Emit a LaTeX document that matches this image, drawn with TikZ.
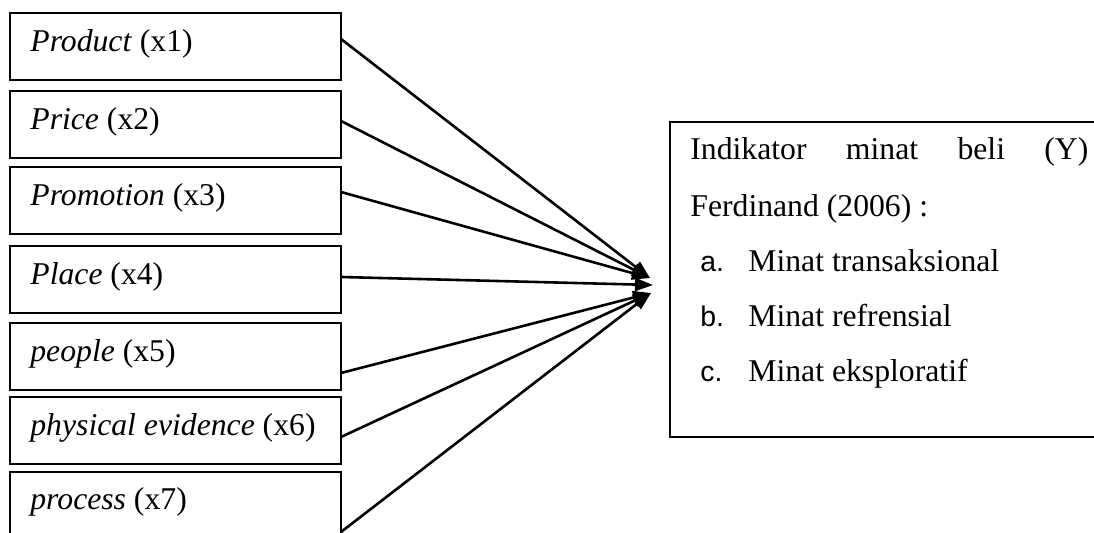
\documentclass[tikz,border=0pt]{standalone}
\usepackage{fontspec}
\setmainfont{Liberation Serif}
\newfontfamily\labfont{Liberation Sans}
\usetikzlibrary{arrows.meta}
\tikzset{
  varbox/.style={draw, line width=1pt, minimum width=165.5pt, minimum height=33.5pt, inner sep=0pt, outer sep=0pt},
  ybox/.style={draw, line width=1pt, minimum width=220pt, minimum height=157.5pt, inner sep=0pt, outer sep=0pt},
  lbl/.style={anchor=base west, inner sep=0pt, font=\fontsize{15.85}{19}\selectfont},
  itemlbl/.style={anchor=base west, inner sep=0pt, font=\labfont\fontsize{14.2}{17}\selectfont},
  conn/.style={line width=1.3pt, -{Triangle[length=9pt,width=6.5pt]}}
}
\begin{document}
\begin{tikzpicture}[x=0.5pt,y=-0.5pt]
\useasboundingbox (0,0) rectangle (1094,533);
\clip (0,0) rectangle (1094,533);
% left boxes
\node[varbox] (b1) at (175.5,46.5) {};
\node[varbox] (b2) at (175.5,124.5) {};
\node[varbox] (b3) at (175.5,201) {};
\node[varbox] (b4) at (175.5,280) {};
\node[varbox] (b5) at (175.5,356.5) {};
\node[varbox] (b6) at (175.5,431) {};
\node[varbox] (b7) at (175.5,506) {};
% labels
\node[lbl] (t1) at (30,52) {\textit{Product} (x1)};
\node[lbl] (t2) at (30,130) {\textit{Price} (x2)};
\node[lbl] (t3) at (30,206) {\textit{Promotion} (x3)};
\node[lbl] (t4) at (30,285) {\textit{Place} (x4)};
\node[lbl] (t5) at (30,362) {\textit{people} (x5)};
\node[lbl] (t6) at (30,436) {\textit{physical evidence} (x6)};
\node[lbl] (t7) at (30,510) {\textit{process} (x7)};
% right box
\node[ybox] (yb) at (890,279.5) {};
\node[lbl] (y1) at (690,160) {\hbox to 199pt{Indikator\hfill minat\hfill beli\hfill (Y)}};
\node[lbl] (y2) at (690,217) {Ferdinand (2006) :};
\node[itemlbl] (la) at (700,272) {a.};
\node[lbl] (ia) at (748,272) {Minat transaksional};
\node[itemlbl] (lb) at (700,327) {b.};
\node[lbl] (ib) at (748,327) {Minat refrensial};
\node[itemlbl] (lc) at (700,382) {c.};
\node[lbl] (ic) at (748,382) {Minat eksploratif};
% connectors
\coordinate (tipa) at (650,278);
\coordinate (tipb) at (653,285);
\coordinate (tipc) at (651,293);
\draw[conn] ([yshift=3.75pt]b1.east) -- (tipa);
\draw[conn] ([yshift=1.75pt]b2.east) -- (tipa);
\draw[conn] ([yshift=4.5pt]b3.east) -- (tipa);
\draw[conn] ([yshift=1.5pt]b4.east) -- (tipb);
\draw[conn] ([yshift=-8.25pt]b5.east) -- (tipc);
\draw[conn] ([yshift=-3pt]b6.east) -- (tipc);
\draw[conn] ([yshift=-13pt]b7.east) -- (tipc);
\end{tikzpicture}
\end{document}
